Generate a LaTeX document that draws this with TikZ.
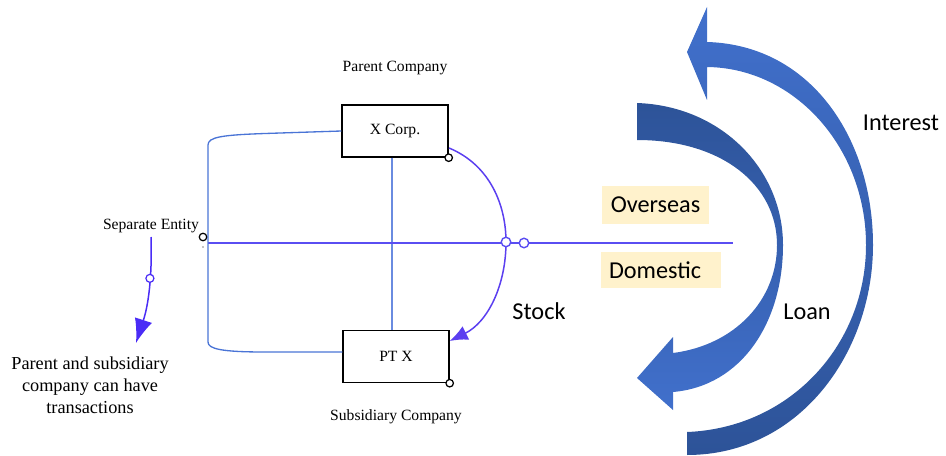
\documentclass[tikz,border=0pt]{standalone}
\usepackage{fontspec}
\setmainfont{Liberation Serif}
\newfontfamily\calib{Carlito}
\usetikzlibrary{arrows.meta}
\definecolor{brblue}{HTML}{4A74D6}
\definecolor{vlblue}{HTML}{6A8BE0}
\definecolor{hlviolet}{HTML}{5A4DF2}
\definecolor{stockviolet}{HTML}{5B3FF0}
\definecolor{sepviolet}{HTML}{4A2CF6}
\definecolor{tagfill}{HTML}{FFF2CC}
\definecolor{arrlight}{HTML}{4170CC}
\definecolor{arrdark}{HTML}{2D5398}
\begin{document}
\begin{tikzpicture}[x=0.02cm,y=-0.02cm,
  serif/.style={font=\fontsize{8.9pt}{10.5pt}\selectfont},
  serifbig/.style={font=\fontsize{10.4pt}{12.6pt}\selectfont, align=center},
  sans/.style={font=\calib\fontsize{13.8pt}{16pt}\selectfont},
  compbox/.style={draw=black, line width=0.8pt, minimum width=2.12cm, minimum height=1.04cm, inner sep=0pt, font=\fontsize{8.9pt}{10.5pt}\selectfont},
  endcirc/.style={circle, draw=black, fill=white, line width=0.7pt, minimum size=0.15cm, inner sep=0pt},
  linecirc/.style={circle, draw=hlviolet, fill=white, line width=0.8pt, minimum size=0.19cm, inner sep=0pt},
  sepcirc/.style={circle, draw=sepviolet, fill=white, line width=0.7pt, minimum size=0.16cm, inner sep=0pt},
  bracketline/.style={draw=brblue, line width=0.75pt},
  vline/.style={draw=vlblue, line width=0.75pt},
  hline/.style={draw=hlviolet, line width=0.85pt},
  stockarc/.style={draw=stockviolet, line width=0.85pt, -{Latex[length=0.36cm, width=0.3cm]}},
  separrow/.style={draw=sepviolet, line width=0.85pt, -{Latex[length=0.48cm, width=0.36cm]}},
  tag/.style={fill=tagfill, inner sep=0pt, font=\calib\fontsize{13.8pt}{16pt}\selectfont}
]
\useasboundingbox (0,0) rectangle (946,456);

% big arrows
\shade[top color=arrlight, bottom color=arrdark]
  (687,455) -- (687,432)
  .. controls (790,428) and (866,345) .. (866,245)
  .. controls (866,148) and (795,68) .. (707,67)
  -- (707,100) -- (687,52) -- (707,7) -- (707,42)
  .. controls (812,45) and (873,140) .. (873,245)
  .. controls (873,352) and (800,455) .. (687,455) -- cycle;
\shade[top color=arrdark, bottom color=arrlight]
  (637,103)
  .. controls (722,106) and (783,170) .. (783,245)
  .. controls (783,322) and (742,386) .. (673,392)
  -- (673,410) -- (637,378) -- (673,337) -- (673,353)
  .. controls (735,345) and (777,300) .. (777,245)
  .. controls (777,185) and (722,140) .. (637,140) -- cycle;

% labels of the right part
\node[sans] (interest) at (901,123) {Interest};
\node[sans] (loan) at (807,312) {Loan};
\node[sans] (stock) at (539,311) {Stock};
\node[tag, minimum width=2.14cm, minimum height=0.76cm] (overseas) at (655.5,205) {Overseas};
\node[tag, text width=2.08cm, align=left, inner xsep=0.16cm, minimum height=0.72cm] (domestic) at (661,270) {Domestic};

% company boxes
\node[compbox] (xc) at (395,131) {X Corp.};
\node[compbox] (ptx) at (396,356.5) {PT X};
\node[serif] (pc) at (395,68) {Parent Company};
\node[serif] (sc) at (396,417) {Subsidiary Company};

% vertical and horizontal lines
\draw[vline] (xc.south -| 392,0) -- (ptx.north -| 392,0);
\coordinate (hl) at (208,243);
\coordinate (hr) at (733,243);
\draw[hline] (hl) -- (hr);

% bracket
\draw[bracketline] (xc.west) -- (265,133.5)
  .. controls (222,135) and (208,137) .. (208,145)
  -- (208,342)
  .. controls (208,349) and (222,352) .. (265,352) -- (ptx.west |- 0,352);

% stock arc
\coordinate (sa) at (449,148);
\coordinate (sb) at (506,242);
\draw[stockarc] (sa) .. controls (490,165) and (506,205) .. (sb)
  .. controls (506,285) and (488,322) .. (ptx.east |- 0,341);
\node[linecirc] (lc1) at (sb) {};
\node[linecirc] (lc2) at (524,243) {};

% end circles
\node[endcirc] (xcc) at (xc.south east) {};
\node[endcirc] (ptxc) at (ptx.south east) {};

% separate entity
\node[serif] (se) at (151,226) {Separate Entity};
\node[endcirc] (sec) at (203,237) {};
\fill (203,247) circle (0.6);
\coordinate (sestart) at (151,237);
\coordinate (seend) at (136,343);
\draw[separrow] (sestart) .. controls (152,268) and (150,300) .. node[sepcirc, pos=0.43] (sepc) {} (seend);
\node[serifbig] (pst) at (90,385) {Parent and subsidiary\\company can have\\transactions};
\end{tikzpicture}
\end{document}
